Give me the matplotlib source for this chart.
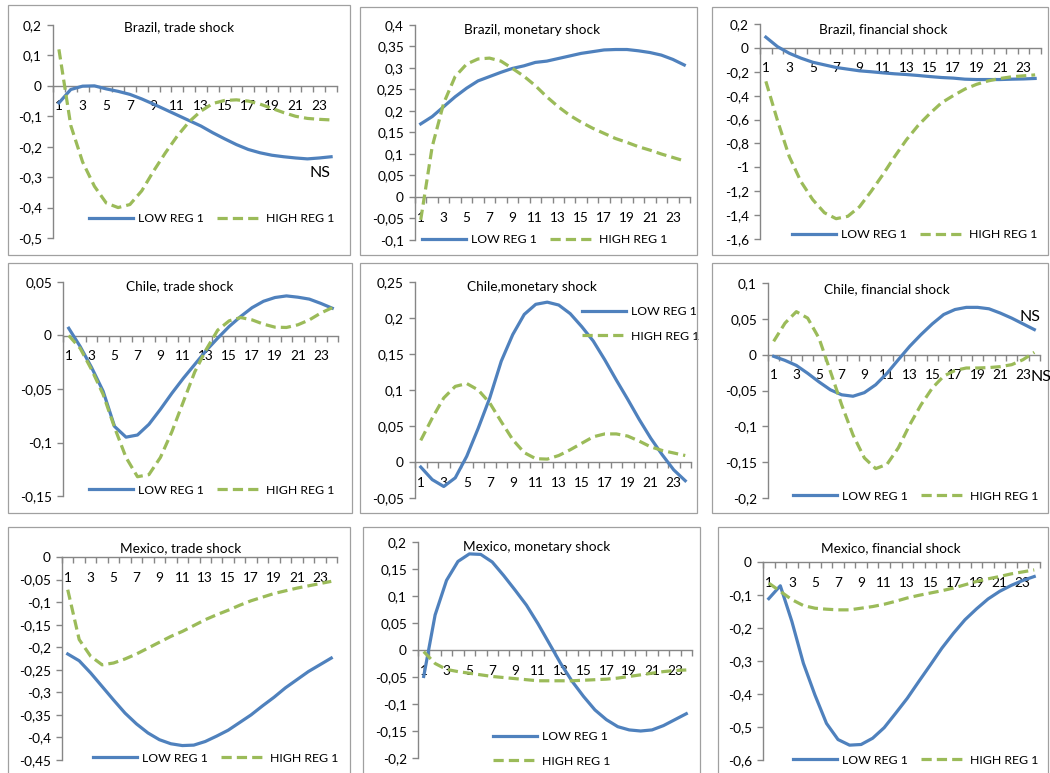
import numpy as np
import matplotlib
matplotlib.use('Agg')
import matplotlib.pyplot as plt
from matplotlib.patches import Rectangle
from matplotlib.ticker import FuncFormatter

plt.rcParams['font.family'] = ['Lato', 'DejaVu Sans']

# ---------------- data ----------------
periods = list(range(1, 25))
x_labels = [str(p) for p in range(1, 24, 2)]
series_names = ['LOW REG 1', 'HIGH REG 1']

brazil_trade_low = [-0.056, -0.012, -0.001, 0.0, -0.01, -0.018, -0.028, -0.043, -0.06, -0.078,
                    -0.096, -0.114, -0.132, -0.154, -0.174, -0.193, -0.209, -0.22, -0.228, -0.233,
                    -0.237, -0.24, -0.237, -0.233]
brazil_trade_high = [0.12, -0.13, -0.25, -0.33, -0.385, -0.4, -0.39, -0.345, -0.28, -0.22,
                     -0.165, -0.118, -0.083, -0.058, -0.048, -0.046, -0.05, -0.06, -0.074, -0.088,
                     -0.1, -0.107, -0.11, -0.112]

brazil_monetary_low = [0.17, 0.187, 0.21, 0.233, 0.253, 0.27, 0.28, 0.29, 0.299, 0.305,
                       0.313, 0.316, 0.322, 0.328, 0.334, 0.338, 0.342, 0.343, 0.343, 0.34,
                       0.336, 0.33, 0.32, 0.307]
brazil_monetary_high = [-0.053, 0.117, 0.218, 0.28, 0.309, 0.321, 0.323, 0.316, 0.299, 0.281,
                        0.259, 0.233, 0.21, 0.19, 0.174, 0.16, 0.148, 0.136, 0.127, 0.117,
                        0.109, 0.1, 0.092, 0.084]

brazil_financial_low = [0.09, 0.01, -0.045, -0.086, -0.12, -0.142, -0.164, -0.178, -0.192, -0.2,
                        -0.209, -0.217, -0.223, -0.231, -0.24, -0.248, -0.253, -0.262, -0.265, -0.265,
                        -0.265, -0.262, -0.26, -0.256]
brazil_financial_high = [-0.28, -0.61, -0.91, -1.12, -1.27, -1.38, -1.43, -1.41, -1.33, -1.2,
                         -1.06, -0.91, -0.77, -0.65, -0.55, -0.46, -0.4, -0.345, -0.305, -0.276,
                         -0.256, -0.242, -0.234, -0.226]

chile_trade_low = [0.0068, -0.0103, -0.03, -0.052, -0.085, -0.095, -0.093, -0.083, -0.069, -0.054,
                   -0.04, -0.027, -0.014, -0.0025, 0.0084, 0.0177, 0.026, 0.032, 0.0355, 0.037,
                   0.0358, 0.034, 0.03, 0.0255]
chile_trade_high = [0.0, -0.012, -0.032, -0.055, -0.086, -0.114, -0.132, -0.13, -0.114, -0.09,
                    -0.062, -0.034, -0.013, 0.005, 0.0137, 0.0168, 0.0146, 0.0106, 0.0078, 0.0075,
                    0.01, 0.0146, 0.021, 0.026]

chile_monetary_low = [-0.007, -0.0245, -0.034, -0.022, 0.008, 0.047, 0.089, 0.14, 0.177, 0.205,
                      0.219, 0.222, 0.218, 0.206, 0.188, 0.168, 0.142, 0.114, 0.087, 0.059,
                      0.033, 0.01, -0.011, -0.026]
chile_monetary_high = [0.03, 0.061, 0.089, 0.105, 0.109, 0.1, 0.082, 0.056, 0.031, 0.013,
                       0.0046, 0.004, 0.009, 0.017, 0.026, 0.035, 0.039, 0.039, 0.036, 0.029,
                       0.021, 0.016, 0.0125, 0.009]

chile_financial_low = [-0.0023, -0.008, -0.015, -0.026, -0.038, -0.049, -0.056, -0.058, -0.053, -0.042,
                       -0.026, -0.007, 0.0116, 0.028, 0.043, 0.056, 0.063, 0.066, 0.066, 0.064,
                       0.058, 0.051, 0.043, 0.035]
chile_financial_high = [0.0186, 0.044, 0.06, 0.051, 0.023, -0.023, -0.07, -0.112, -0.144, -0.159,
                        -0.153, -0.13, -0.098, -0.07, -0.0465, -0.03, -0.022, -0.0186, -0.0186, -0.018,
                        -0.0167, -0.014, -0.007, 0.0033]

mexico_trade_low = [-0.215, -0.23, -0.257, -0.287, -0.317, -0.346, -0.37, -0.39, -0.405, -0.414,
                    -0.418, -0.417, -0.409, -0.397, -0.384, -0.367, -0.35, -0.33, -0.311, -0.29,
                    -0.272, -0.254, -0.239, -0.224]
mexico_trade_high = [-0.0725, -0.183, -0.22, -0.239, -0.235, -0.226, -0.215, -0.202, -0.189, -0.176,
                     -0.165, -0.152, -0.139, -0.128, -0.118, -0.107, -0.097, -0.089, -0.081, -0.075,
                     -0.069, -0.064, -0.059, -0.054]

mexico_monetary_low = [-0.049, 0.065, 0.129, 0.164, 0.178, 0.177, 0.163, 0.138, 0.111, 0.083,
                       0.049, 0.012, -0.025, -0.058, -0.086, -0.111, -0.129, -0.142, -0.148, -0.15,
                       -0.148, -0.14, -0.129, -0.118]
mexico_monetary_high = [-0.003, -0.025, -0.036, -0.04, -0.043, -0.046, -0.049, -0.051, -0.053, -0.055,
                        -0.057, -0.057, -0.057, -0.057, -0.056, -0.055, -0.054, -0.052, -0.049, -0.046,
                        -0.043, -0.04, -0.038, -0.037]

mexico_financial_low = [-0.111, -0.072, -0.18, -0.307, -0.403, -0.489, -0.538, -0.555, -0.553, -0.534,
                        -0.502, -0.458, -0.413, -0.362, -0.312, -0.261, -0.216, -0.175, -0.142, -0.112,
                        -0.089, -0.071, -0.056, -0.044]
mexico_financial_high = [-0.064, -0.089, -0.114, -0.132, -0.14, -0.143, -0.145, -0.145, -0.14, -0.135,
                         -0.128, -0.119, -0.109, -0.101, -0.094, -0.087, -0.079, -0.069, -0.059, -0.051,
                         -0.044, -0.036, -0.03, -0.024]

titles = ['Brazil, trade shock', 'Brazil, monetary shock', 'Brazil, financial shock',
          'Chile, trade shock', 'Chile,monetary shock', 'Chile, financial shock',
          'Mexico, trade shock', 'Mexico, monetary shock', 'Mexico, financial shock']

# y ranges (min, max, step)
y_ranges = [(-0.5, 0.2, 0.1), (-0.1, 0.4, 0.05), (-1.6, 0.2, 0.2),
            (-0.15, 0.05, 0.05), (-0.05, 0.25, 0.05), (-0.2, 0.1, 0.05),
            (-0.45, 0.0, 0.05), (-0.2, 0.2, 0.05), (-0.6, 0.0, 0.1)]

lows = [brazil_trade_low, brazil_monetary_low, brazil_financial_low,
        chile_trade_low, chile_monetary_low, chile_financial_low,
        mexico_trade_low, mexico_monetary_low, mexico_financial_low]
highs = [brazil_trade_high, brazil_monetary_high, brazil_financial_high,
         chile_trade_high, chile_monetary_high, chile_financial_high,
         mexico_trade_high, mexico_monetary_high, mexico_financial_high]

# ---------------- layout (pixels) ----------------
W, H = 1050, 773
frames = [(8, 5, 350, 255), (360, 7, 697, 255), (712, 7, 1048, 255),
          (8, 263, 352, 513), (360, 263, 697, 513), (712, 263, 1048, 513),
          (8, 527, 350, 780), (363, 527, 700, 780), (718, 527, 1048, 780)]
plot_areas = [(53, 25, 337, 238), (415, 25, 690, 240), (760, 24, 1041, 239),
              (63, 282, 338, 496), (415, 282, 691, 498), (768, 283, 1040, 498),
              (62, 557, 337, 760), (418, 542, 692, 758), (763, 562, 1040, 760)]
title_pos = [(179, 27), (532, 30), (883, 29),
             (180, 286), (532, 287), (887, 289),
             (181, 548), (537, 547), (891, 548)]
legend_pos = [(212, 219, 2), (545, 240, 2), (915, 235, 2),
              (212, 490, 2), (641, 324, 1), (916, 496, 2),
              (216, 758, 2), (552, 749, 1), (916, 760, 2)]
ns_pos = [(320, 173), (1030, 317), (1041, 377)]

BLUE = '#4F81BD'
GREEN = '#9BBB59'
AXC = '#868686'


def fmt(v, pos=None):
    s = f"{round(v, 4):g}"
    if s == '-0':
        s = '0'
    return s.replace('.', ',')


fig = plt.figure(figsize=(W / 100, H / 100), dpi=100)

for (x0, y0, x1, y1) in frames:
    fig.patches.append(Rectangle((x0 / W, 1 - y1 / H), (x1 - x0) / W, (y1 - y0) / H,
                                 transform=fig.transFigure, fill=False,
                                 edgecolor='#a0a0a0', lw=0.9))

for i in range(9):
    x0, y0, x1, y1 = plot_areas[i]
    ax = fig.add_axes([x0 / W, 1 - y1 / H, (x1 - x0) / W, (y1 - y0) / H])
    ax.patch.set_alpha(0)
    ax.plot(periods, lows[i], color=BLUE, lw=2.3, label=series_names[0], zorder=3)
    ax.plot(periods, highs[i], color=GREEN, lw=2.3, dashes=(3.2, 1.6),
            label=series_names[1], zorder=3)
    ymin, ymax, step = y_ranges[i]
    n = int(round((ymax - ymin) / step)) + 1
    ax.set_ylim(ymin, ymax)
    ax.set_yticks(np.linspace(ymin, ymax, n))
    ax.yaxis.set_major_formatter(FuncFormatter(fmt))
    ax.set_xlim(0.5, 24.5)
    ax.set_xticks(list(range(1, 24, 2)))
    ax.set_xticklabels(x_labels)
    ax.set_xticks(np.arange(0.5, 25, 1), minor=True)
    for s in ['top', 'right']:
        ax.spines[s].set_visible(False)
    ax.spines['bottom'].set_position(('data', 0))
    for s in ['left', 'bottom']:
        ax.spines[s].set_color(AXC)
        ax.spines[s].set_linewidth(1.0)
    ax.tick_params(axis='x', which='major', length=0, pad=10.5, labelsize=9.8)
    ax.tick_params(axis='x', which='minor', length=4, direction='out', color=AXC, width=1)
    ax.tick_params(axis='y', which='major', length=4, direction='out', color=AXC, width=1,
                   pad=4, labelsize=9.8)

    tx, ty = title_pos[i]
    fig.text(tx / W, 1 - ty / H, titles[i], ha='center', va='center', fontsize=9.8)

    lx, ly, nc = legend_pos[i]
    ax.legend(loc='center', bbox_to_anchor=(lx / W, 1 - ly / H), bbox_transform=fig.transFigure,
              ncol=nc, frameon=False, fontsize=8.8, handlelength=3.6, handletextpad=0.4,
              columnspacing=1.1, borderpad=0, borderaxespad=0, labelspacing=1.1)

for (nx, ny) in ns_pos:
    fig.text(nx / W, 1 - ny / H, 'NS', ha='center', va='center', fontsize=11.5)

fig.savefig('out.png', dpi=100)
